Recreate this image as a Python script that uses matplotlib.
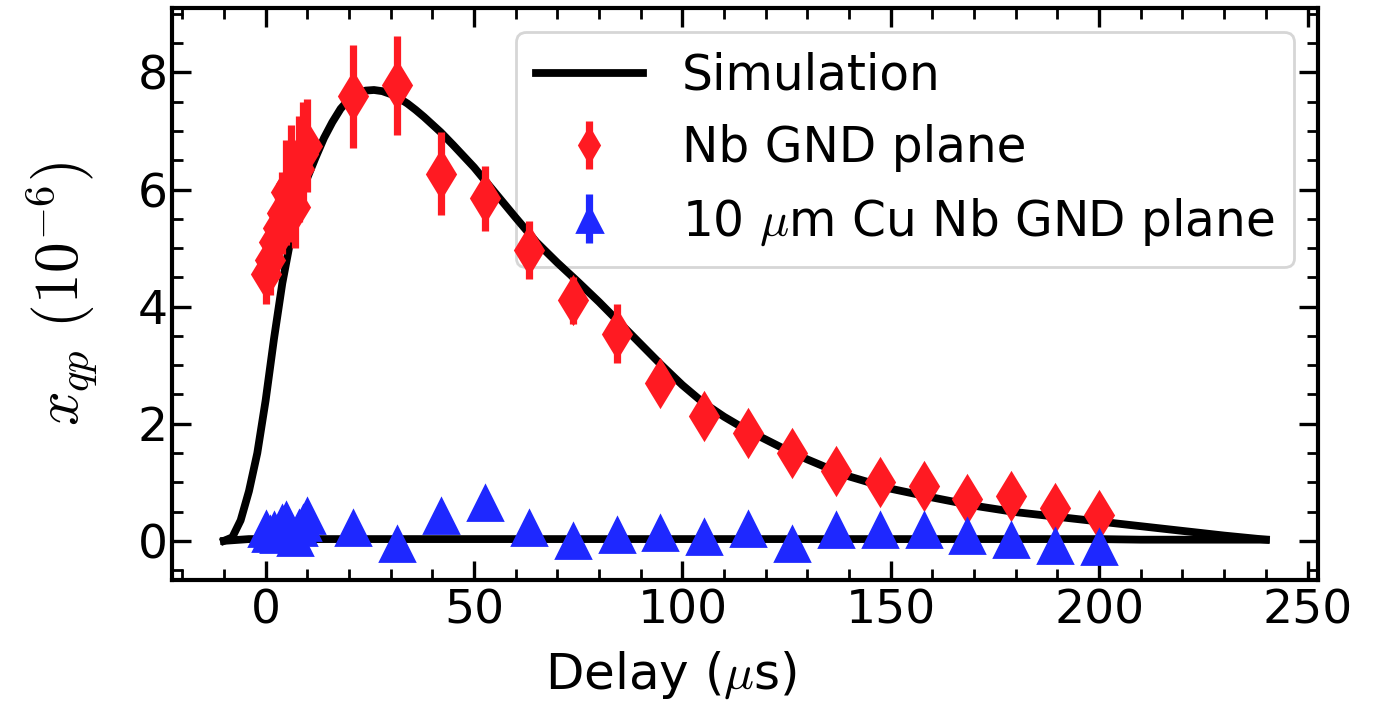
import matplotlib
matplotlib.use("Agg")
import matplotlib.pyplot as plt
from matplotlib.ticker import MultipleLocator

plt.rcParams['mathtext.fontset'] = 'cm'
plt.rcParams['font.family'] = 'DejaVu Sans'

# simulation curves
sim_x = [-10, -8, -6, -4, -2, 0, 2, 4, 6, 8, 10, 12, 14, 16, 18, 20, 22, 24, 26,
         28, 30, 32, 34, 36, 38, 40, 42, 45, 50, 55, 60, 65, 70, 75, 80, 85, 90,
         95, 100, 105, 110, 115, 120, 125, 130, 135, 140, 150, 160, 170, 180,
         190, 200, 210, 220, 230, 240]
sim_nb = [0.0, 0.06, 0.35, 0.85, 1.5, 2.4, 3.45, 4.4, 5.15, 5.75, 6.2, 6.55,
          6.88, 7.15, 7.38, 7.54, 7.64, 7.69, 7.7, 7.68, 7.63, 7.56, 7.47, 7.36,
          7.24, 7.11, 6.98, 6.76, 6.38, 5.95, 5.52, 5.1, 4.75, 4.42, 4.08, 3.72,
          3.36, 3.0, 2.66, 2.36, 2.12, 1.91, 1.73, 1.55, 1.39, 1.24, 1.1, 0.89,
          0.74, 0.6, 0.49, 0.41, 0.33, 0.25, 0.17, 0.09, 0.02]
sim_cu = [0.0, 0.01, 0.02, 0.03, 0.03, 0.03, 0.03, 0.03, 0.03, 0.03, 0.03, 0.03,
          0.03, 0.03, 0.03, 0.03, 0.03, 0.03, 0.03, 0.03, 0.03, 0.03, 0.03, 0.03,
          0.03, 0.03, 0.03, 0.03, 0.03, 0.03, 0.03, 0.03, 0.03, 0.03, 0.03, 0.03,
          0.03, 0.03, 0.03, 0.03, 0.03, 0.03, 0.03, 0.03, 0.03, 0.03, 0.03, 0.03,
          0.03, 0.03, 0.03, 0.03, 0.03, 0.02, 0.02, 0.02, 0.02]

# measured delays (us)
delay = [0, 1, 2, 3, 4, 5, 6, 7, 8, 9, 10, 21.05, 31.6, 42.1, 52.6, 63.2, 73.7,
         84.2, 94.7, 105.3, 115.8, 126.3, 136.8, 147.4, 157.9, 168.4, 178.9,
         189.5, 200]

nb_y = [4.55, 4.8, 5.1, 5.35, 5.6, 5.95, 6.1, 5.7, 6.35, 6.6, 6.75, 7.59, 7.78,
        6.27, 5.85, 4.97, 4.11, 3.54, 2.69, 2.13, 1.85, 1.5, 1.2, 1.01, 0.93,
        0.71, 0.76, 0.56, 0.44]
nb_err = [0.5, 0.6, 0.6, 0.65, 0.7, 0.9, 1.0, 0.7, 0.9, 0.9, 0.8, 0.88, 0.85,
          0.71, 0.55, 0.5, 0.4, 0.5, 0.25, 0.2, 0.15, 0.15, 0.12, 0.12, 0.1,
          0.1, 0.1, 0.08, 0.08]

cu_y = [0.2, 0.12, 0.18, 0.1, 0.3, 0.36, 0.15, 0.05, 0.22, 0.3, 0.42, 0.22,
        -0.06, 0.43, 0.64, 0.22, 0.0, 0.1, 0.14, 0.07, 0.2, -0.05, 0.19, 0.19,
        0.19, 0.09, 0.02, -0.08, -0.1]
cu_err = [0.08] * len(cu_y)

fig = plt.figure(figsize=(6.875, 3.55), dpi=200)
ax = fig.add_axes([0.125, 0.183, 0.8335, 0.8057])

ax.plot(sim_x, sim_nb, color='black', lw=2.8, label='Simulation')
ax.plot(sim_x, sim_cu, color='black', lw=2.8)

ax.errorbar(delay, nb_y, yerr=nb_err, fmt='d', color='#ff1a22', ms=11.5,
            elinewidth=2.6, capsize=0, label='Nb GND plane')
ax.errorbar(delay, cu_y, yerr=cu_err, fmt='^', color='#1e28ff', ms=12,
            elinewidth=2.6, capsize=0, label=r'10 $\mu$m Cu Nb GND plane')

ax.set_xlim(-22.5, 252.5)
ax.set_ylim(-0.67, 9.1)
ax.xaxis.set_major_locator(MultipleLocator(50))
ax.xaxis.set_minor_locator(MultipleLocator(10))
ax.yaxis.set_major_locator(MultipleLocator(2))
ax.yaxis.set_minor_locator(MultipleLocator(0.5))
ax.tick_params(which='both', direction='in', top=True, right=True, labelsize=17)
ax.tick_params(which='major', length=7, width=1.2, pad=3)
ax.tick_params(which='minor', length=4, width=1.0)
ax.tick_params(axis='y', which='major', pad=1.5)
for s in ax.spines.values():
    s.set_linewidth(1.5)

ax.set_xlabel(r'Delay ($\mu$s)', fontsize=18)
ax.xaxis.set_label_coords(0.436, -0.122)
ax.set_ylabel(r'$x_{qp}$ $(10^{-6})$', fontsize=22, labelpad=14)

leg = ax.legend(loc='upper right', fontsize=17.5, handlelength=2.2,
                labelspacing=0.5, markerscale=0.75)
leg.set_zorder(1)

fig.savefig('out.png', dpi=200)
